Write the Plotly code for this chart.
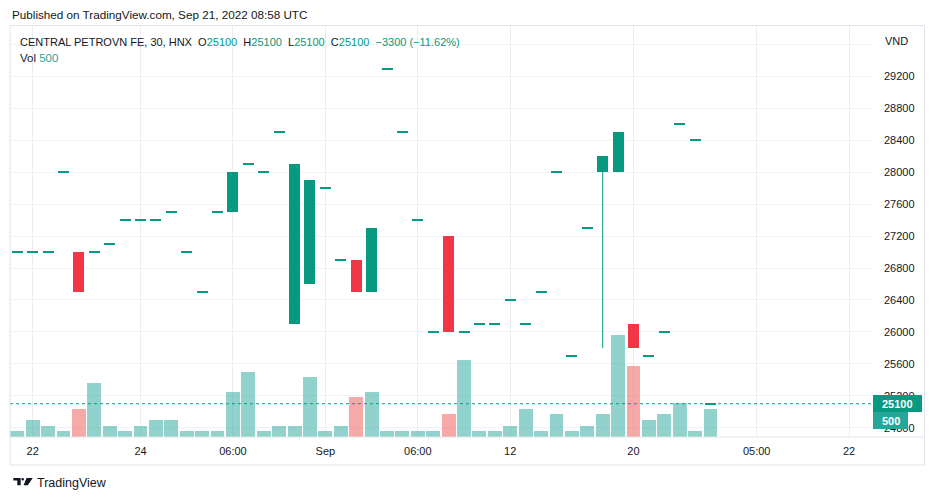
import plotly.graph_objects as go

# ---------------- data ----------------
bar_index = list(range(46))
opens = [27000, 27000, 27000, 28000, 27000, 27000, 27100, 27400, 27400, 27400,
         27500, 27000, 26500, 27500, 27500, 28100, 28000, 28500, 26100, 26600,
         27800, 26900, 26900, 26500, 29300, 28500, 27400, 26000, 27200, 26000,
         26100, 26100, 26400, 26100, 26500, 28000, 25700, 27300, 28000, 28000,
         26100, 25700, 26000, 28600, 28400, 25100]
highs = [27000, 27000, 27000, 28000, 27000, 27000, 27100, 27400, 27400, 27400,
         27500, 27000, 26500, 27500, 28000, 28100, 28000, 28500, 28100, 27900,
         27800, 26900, 26900, 27300, 29300, 28500, 27400, 26000, 27200, 26000,
         26100, 26100, 26400, 26100, 26500, 28000, 25700, 27300, 28200, 28500,
         26100, 25700, 26000, 28600, 28400, 25100]
lows = [27000, 27000, 27000, 28000, 26500, 27000, 27100, 27400, 27400, 27400,
        27500, 27000, 26500, 27500, 27500, 28100, 28000, 28500, 26100, 26600,
        27800, 26900, 26500, 26500, 29300, 28500, 27400, 26000, 26000, 26000,
        26100, 26100, 26400, 26100, 26500, 28000, 25700, 27300, 25800, 28000,
        25800, 25700, 26000, 28600, 28400, 25100]
closes = [27000, 27000, 27000, 28000, 26500, 27000, 27100, 27400, 27400, 27400,
          27500, 27000, 26500, 27500, 28000, 28100, 28000, 28500, 28100, 27900,
          27800, 26900, 26500, 27300, 29300, 28500, 27400, 26000, 26000, 26000,
          26100, 26100, 26400, 26100, 26500, 28000, 25700, 27300, 28200, 28500,
          25800, 25700, 26000, 28600, 28400, 25100]
volumes = [100, 300, 200, 100, 500, 950, 200, 100, 200, 300,
           300, 100, 100, 100, 800, 1150, 100, 200, 200, 1050,
           100, 200, 700, 800, 100, 100, 100, 100, 400, 1350,
           100, 100, 200, 500, 100, 400, 100, 200, 400, 1800,
           1250, 300, 400, 600, 100, 500]

time_tick_positions = [1, 8, 14, 20, 26, 32, 40, 48, 54]
time_tick_labels = ["22", "24", "06:00", "Sep", "06:00", "12", "20", "05:00", "22"]
price_tick_values = [24800, 25200, 25600, 26000, 26400, 26800, 27200, 27600,
                     28000, 28400, 28800, 29200, 29600]
price_tick_labels = ["24800", "25200", "25600", "26000", "26400", "26800", "27200",
                     "27600", "28000", "28400", "28800", "29200", ""]

symbol_title = "CENTRAL PETROVN FE, 30, HNX"
published_text = "Published on TradingView.com, Sep 21, 2022 08:58 UTC"
currency = "VND"

# ---------------- style ----------------
UP = "#089981"
DOWN = "#F23645"
UP_VOL = "rgba(38,166,154,0.5)"
DOWN_VOL = "rgba(239,83,80,0.5)"
TEXT = "#131722"
FONT = "Liberation Sans, Arial, sans-serif"
W, H = 935, 500
L, R, T, B = 10, 873, 26, 437
PW, PH = R - L, B - T


def px(x):
    return (x - L) / PW


def py(y):
    return (B - y) / PH


up = [c >= o for o, c in zip(opens, closes)]
DOJI = 14
body_base = [min(o, c) if o != c else o - DOJI / 2 for o, c in zip(opens, closes)]
body_len = [abs(c - o) if o != c else DOJI for o, c in zip(opens, closes)]
body_col = [UP if u else DOWN for u in up]
vol_col = [UP_VOL if u else DOWN_VOL for u in up]

fig = go.Figure()

# volume
fig.add_trace(go.Bar(x=bar_index, y=volumes, marker=dict(color=vol_col, line=dict(width=0)),
                     width=0.9, yaxis="y2", hoverinfo="skip"))

# wicks
for flag, col in ((True, UP), (False, DOWN)):
    wx, wy = [], []
    for i, o, h, l, c, u in zip(bar_index, opens, highs, lows, closes, up):
        if u == flag and h > l:
            wx += [i, i, None]
            wy += [l, h, None]
    if wx:
        fig.add_trace(go.Scatter(x=wx, y=wy, mode="lines", line=dict(color=col, width=1),
                                 hoverinfo="skip"))

# bodies
fig.add_trace(go.Bar(x=bar_index, y=body_len, base=body_base, width=0.714,
                     marker=dict(color=body_col, line=dict(width=0)), hoverinfo="skip"))

last_close = closes[-1]
last_vol = volumes[-1]
chg = closes[-1] - closes[-2]
pct = chg / closes[-2] * 100
sign = "\u2212" if chg < 0 else "+"
G = lambda s: f"<span style='color:{UP if up[-1] else DOWN}'>{s}</span>"
sp = "\u00a0\u00a0"
line1 = (f"{symbol_title}{sp}O{G(opens[-1])}{sp}H{G(highs[-1])}{sp}L{G(lows[-1])}"
         f"{sp}C{G(closes[-1])}{sp}{G(f'{sign}{abs(chg)} ({sign}{abs(pct):.2f}%)')}")
line2 = f"Vol\u00a0<span style='color:#26a69a'>{last_vol}</span>"

shapes = [
    # price line
    dict(type="line", xref="paper", x0=0, x1=1, yref="y", y0=last_close, y1=last_close,
         line=dict(color=UP, width=1, dash="dot"), layer="above"),
    # frame
    dict(type="rect", xref="paper", yref="paper", x0=px(10), x1=px(924.5), y0=py(465), y1=py(25.5),
         line=dict(color="#E0E3EB", width=1), layer="above"),
    dict(type="line", xref="paper", yref="paper", x0=px(10), x1=px(924.5), y0=0, y1=0,
         line=dict(color="#E0E3EB", width=1), layer="above"),
    # last price / volume boxes
    dict(type="rect", xref="paper", yref="paper", x0=1, x1=px(922), y0=py(412), y1=py(395),
         fillcolor=UP, line=dict(width=0), layer="above"),
    dict(type="rect", xref="paper", yref="paper", x0=1, x1=px(908), y0=py(429), y1=py(412),
         fillcolor="#26a69a", line=dict(width=0), layer="above"),
    # logo
    dict(type="path", xref="paper", yref="paper",
         path=f"M{px(13.3)},{py(478)} L{px(20.7)},{py(478)} L{px(20.7)},{py(485.3)} "
              f"L{px(17.3)},{py(485.3)} L{px(17.3)},{py(480.6)} L{px(13.3)},{py(480.6)} Z",
         fillcolor=TEXT, line=dict(width=0)),
    dict(type="circle", xref="paper", yref="paper", x0=px(21.4), x1=px(24), y0=py(480.6), y1=py(478),
         fillcolor=TEXT, line=dict(width=0)),
    dict(type="path", xref="paper", yref="paper",
         path=f"M{px(26.5)},{py(478)} L{px(32.7)},{py(478)} L{px(27.8)},{py(485.3)} "
              f"L{px(23.6)},{py(485.3)} Z",
         fillcolor=TEXT, line=dict(width=0)),
]

annotations = [
    dict(text=published_text, xref="paper", yref="paper", x=px(10), y=py(15), xanchor="left",
         yanchor="middle", showarrow=False, font=dict(size=11.7, color=TEXT)),
    dict(text=line1, xref="paper", yref="paper", x=px(18), y=py(42), xanchor="left",
         yanchor="middle", showarrow=False, font=dict(size=11, color=TEXT)),
    dict(text=line2, xref="paper", yref="paper", x=px(18), y=py(58), xanchor="left",
         yanchor="middle", showarrow=False, font=dict(size=11.5, color=TEXT)),
    dict(text=currency, xref="paper", yref="paper", x=px(883), y=py(41), xanchor="left",
         yanchor="middle", showarrow=False, font=dict(size=11, color=TEXT)),
    dict(text=f"{last_close}", xref="paper", yref="paper", x=px(897.5), y=py(403.5),
         xanchor="center", yanchor="middle", showarrow=False,
         font=dict(size=11, color="white", weight="bold")),
    dict(text=f"{last_vol}", xref="paper", yref="paper", x=px(890.5), y=py(420.5),
         xanchor="center", yanchor="middle", showarrow=False,
         font=dict(size=11, color="white", weight="bold")),
    dict(text="TradingView", xref="paper", yref="paper", x=px(35), y=py(483), xanchor="left",
         yanchor="middle", showarrow=False, font=dict(size=12.5, color=TEXT)),
]

fig.update_layout(
    width=W, height=H,
    margin=dict(l=L, r=W - R, t=T, b=H - B),
    paper_bgcolor="white", plot_bgcolor="white",
    showlegend=False, barmode="overlay", bargap=0,
    font=dict(family=FONT, color=TEXT),
    xaxis=dict(range=[-0.474, 55.55], tickmode="array", tickvals=time_tick_positions,
               ticktext=time_tick_labels, showgrid=True, gridcolor="#EBEDF2", gridwidth=1,
               zeroline=False, showline=False, ticks="", ticklabelstandoff=6,
               tickfont=dict(size=11, color=TEXT), fixedrange=True),
    yaxis=dict(side="right", range=[24683, 29833], tickmode="array", tickvals=price_tick_values,
               ticktext=price_tick_labels, showgrid=True, gridcolor="#F0F3FA", gridwidth=1,
               zeroline=False, showline=False, ticks="", ticklabelstandoff=10,
               tickfont=dict(size=11, color=TEXT), fixedrange=True),
    yaxis2=dict(overlaying="y", range=[0, 7250], visible=False, fixedrange=True),
    shapes=shapes, annotations=annotations,
)

fig.write_html("out.html", config={"displayModeBar": False},
               post_script="document.body.style.margin='0';document.body.style.overflow='hidden';")
